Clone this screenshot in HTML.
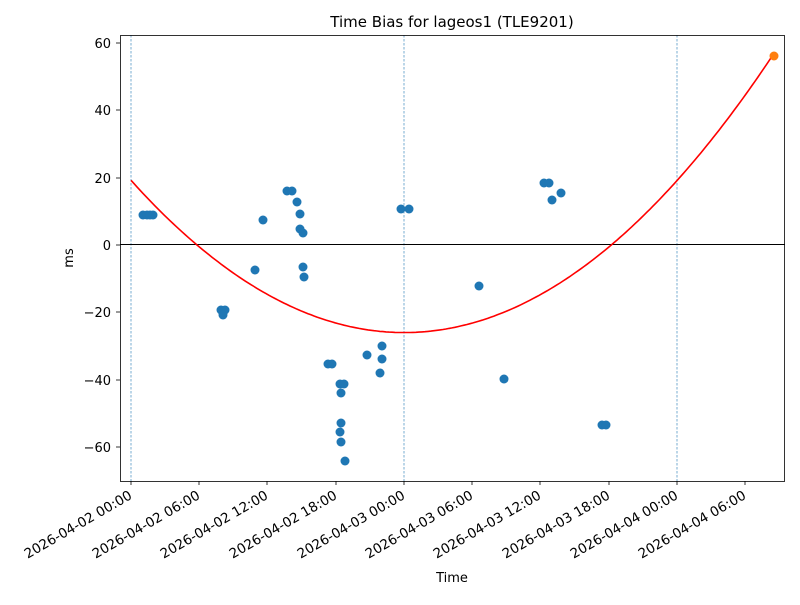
<!DOCTYPE html><html><head><style>body{margin:0;background:#fff}svg{font-family:"DejaVu Sans","Liberation Sans",sans-serif}</style></head><body>
<svg width="800" height="600" xmlns="http://www.w3.org/2000/svg">
<rect width="800" height="600" fill="#fff"/>
<g stroke="#1f77b4" stroke-width="0.6" stroke-dasharray="2.5,1.5">
<line x1="131" y1="35" x2="131" y2="481"/><line x1="404" y1="35" x2="404" y2="481"/><line x1="677" y1="35" x2="677" y2="481"/></g>
<line x1="120" y1="244.5" x2="785" y2="244.5" stroke="#000" stroke-width="1"/>
<path id="p" fill="none" stroke="red" stroke-width="1.6" d=""/>
<g fill="#1f77b4">
<circle cx="143" cy="215" r="4.5"/><circle cx="147" cy="215" r="4.5"/><circle cx="150" cy="215" r="4.5"/><circle cx="153" cy="215" r="4.5"/>
<circle cx="221" cy="310" r="4.5"/><circle cx="225" cy="310" r="4.5"/><circle cx="223" cy="315" r="4.5"/>
<circle cx="255" cy="270" r="4.5"/><circle cx="263" cy="220" r="4.5"/>
<circle cx="287" cy="191" r="4.5"/><circle cx="292" cy="191" r="4.5"/><circle cx="297" cy="202" r="4.5"/><circle cx="300" cy="214" r="4.5"/>
<circle cx="300" cy="229" r="4.5"/><circle cx="303" cy="233" r="4.5"/><circle cx="303" cy="267" r="4.5"/><circle cx="304" cy="277" r="4.5"/>
<circle cx="328" cy="364" r="4.5"/><circle cx="332" cy="364" r="4.5"/>
<circle cx="340" cy="384" r="4.5"/><circle cx="344" cy="384" r="4.5"/><circle cx="341" cy="393" r="4.5"/>
<circle cx="341" cy="423" r="4.5"/><circle cx="340" cy="432" r="4.5"/><circle cx="341" cy="442" r="4.5"/><circle cx="345" cy="461" r="4.5"/>
<circle cx="367" cy="355" r="4.5"/><circle cx="380" cy="373" r="4.5"/><circle cx="382" cy="346" r="4.5"/><circle cx="382" cy="359" r="4.5"/>
<circle cx="401" cy="209" r="4.5"/><circle cx="409" cy="209" r="4.5"/>
<circle cx="479" cy="286" r="4.5"/><circle cx="504" cy="379" r="4.5"/>
<circle cx="544" cy="183" r="4.5"/><circle cx="549" cy="183" r="4.5"/><circle cx="552" cy="200" r="4.5"/><circle cx="561" cy="193" r="4.5"/>
<circle cx="602" cy="425" r="4.5"/><circle cx="606" cy="425" r="4.5"/>
</g>
<circle cx="774" cy="56" r="4.5" fill="#ff7f0e"/>
<rect x="120.5" y="35.5" width="664" height="446" fill="none" stroke="#000" stroke-width="0.8"/>
<g font-size="13" fill="#000">
<g text-anchor="end">
<text x="111" y="48">60</text><text x="111" y="115">40</text><text x="111" y="183">20</text><text x="111" y="250">0</text>
<text x="111" y="317">−20</text><text x="111" y="385">−40</text><text x="111" y="452">−60</text></g>
<g stroke="#000" stroke-width="0.8">
<line x1="116" y1="43" x2="120" y2="43"/><line x1="116" y1="110" x2="120" y2="110"/><line x1="116" y1="178" x2="120" y2="178"/><line x1="116" y1="245" x2="120" y2="245"/><line x1="116" y1="312" x2="120" y2="312"/><line x1="116" y1="380" x2="120" y2="380"/><line x1="116" y1="447" x2="120" y2="447"/>
<line x1="131" y1="481" x2="131" y2="485"/><line x1="199" y1="481" x2="199" y2="485"/><line x1="267" y1="481" x2="267" y2="485"/><line x1="336" y1="481" x2="336" y2="485"/><line x1="404" y1="481" x2="404" y2="485"/><line x1="472" y1="481" x2="472" y2="485"/><line x1="540" y1="481" x2="540" y2="485"/><line x1="609" y1="481" x2="609" y2="485"/><line x1="677" y1="481" x2="677" y2="485"/><line x1="745" y1="481" x2="745" y2="485"/></g>
<g text-anchor="end" font-size="13.5">
<text transform="translate(133,498) rotate(-30)">2026-04-02 00:00</text>
<text transform="translate(201,498) rotate(-30)">2026-04-02 06:00</text>
<text transform="translate(269,498) rotate(-30)">2026-04-02 12:00</text>
<text transform="translate(338,498) rotate(-30)">2026-04-02 18:00</text>
<text transform="translate(406,498) rotate(-30)">2026-04-03 00:00</text>
<text transform="translate(474,498) rotate(-30)">2026-04-03 06:00</text>
<text transform="translate(542,498) rotate(-30)">2026-04-03 12:00</text>
<text transform="translate(611,498) rotate(-30)">2026-04-03 18:00</text>
<text transform="translate(679,498) rotate(-30)">2026-04-04 00:00</text>
<text transform="translate(747,498) rotate(-30)">2026-04-04 06:00</text></g>
<text x="452" y="582" text-anchor="middle">Time</text>
<text transform="translate(73,258) rotate(-90)" text-anchor="middle">ms</text>
<text x="452" y="27" text-anchor="middle" font-size="15">Time Bias for lageos1 (TLE9201)</text>
</g>
<script>
var d="";for(var x=131;x<=773;x+=3){var h=(x-131)/11.38;var v=0.0785*(h-24)*(h-24)-26;d+=(x==131?"M":"L")+x+","+(245-v*3.367).toFixed(1);}
d+="L774,"+(245-56*3.367).toFixed(1);
document.getElementById("p").setAttribute("d",d);
</script>
</svg></body></html>
